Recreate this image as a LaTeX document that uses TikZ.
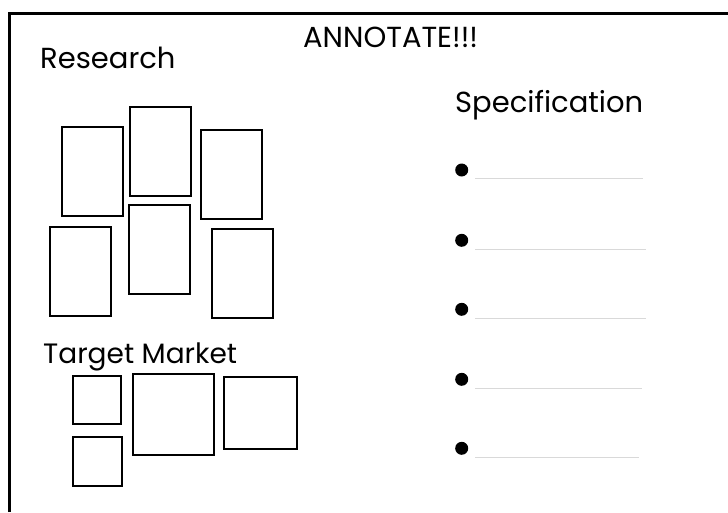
\documentclass[tikz,border=0pt]{standalone}
\usepackage{fontspec}
\setmainfont{Poppins}
\tikzset{
  photo/.style={draw=black,line width=2.6pt},
  heading/.style={anchor=base west,inner sep=0pt,font=\fontsize{29}{29}\selectfont},
  rule/.style={draw=black!15,line width=0.9pt},
  frame/.style={draw=black,line width=2.7pt}
}
\begin{document}
\begin{tikzpicture}[x=1pt,y=-1pt]
                \useasboundingbox (0,0) rectangle (728,512);
                \draw [frame] (9.3,512) -- (9.3,13.7) -- (728,13.7) ;
                % headings
                \node [heading] (research) at (40,68) {Research} ;
                \node [heading,font=\fontsize{29}{29}\selectfont] (annotate) at (303,47.7) {ANNOTATE!!!} ;
                \node [heading] (spec) at (455,112.7) {Specification} ;
                \node [heading,font=\fontsize{28}{28}\selectfont] (target) at (43,363.3) {Target Market} ;
                % research pictures
                \draw [photo] (62,127) rectangle (123,216) ;
                \draw [photo] (130,107) rectangle (191,196) ;
                \draw [photo] (201,130) rectangle (262,219) ;
                \draw [photo] (50,227) rectangle (111,316) ;
                \draw [photo] (129,205) rectangle (190,294) ;
                \draw [photo] (212,229) rectangle (273,318) ;
                % target market pictures
                \draw [photo] (73,376) rectangle (121,424) ;
                \draw [photo] (133,374) rectangle (214,455) ;
                \draw [photo] (224,377) rectangle (297,449) ;
                \draw [photo] (73,437) rectangle (122,486) ;
                % specification bullets
                \fill (461.7,170) circle (6.5pt) ;
                \draw [rule] (475,178.3) -- (642.7,178.3) ;
                \fill (461.7,240.3) circle (6.5pt) ;
                \draw [rule] (475,249) -- (645.7,249) ;
                \fill (461.7,309.3) circle (6.5pt) ;
                \draw [rule] (475,318.3) -- (645.7,318.3) ;
                \fill (461.7,379.3) circle (6.5pt) ;
                \draw [rule] (475,388.3) -- (641.7,388.3) ;
                \fill (461.7,448.3) circle (6.5pt) ;
                \draw [rule] (475,457.3) -- (639,457.3) ;
\end{tikzpicture}
\end{document}
